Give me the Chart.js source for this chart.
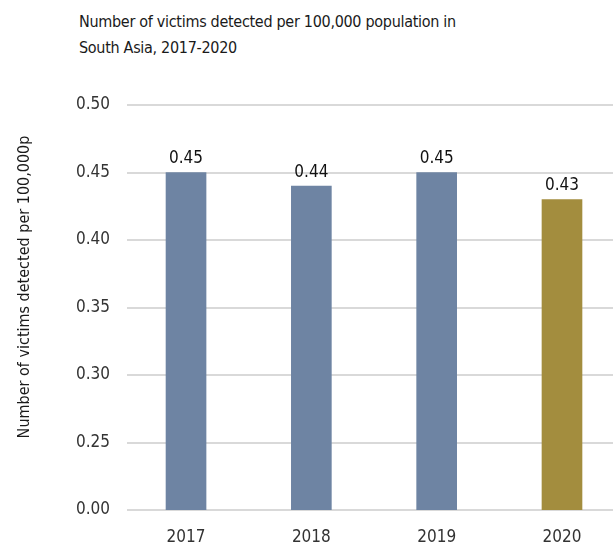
<!DOCTYPE html>
<html>
<head>
<meta charset="utf-8">
<script src="https://cdn.jsdelivr.net/npm/chart.js@4.4.1/dist/chart.umd.min.js"></script>
<style>
  body { margin: 0; background: #fff; }
  #wrap { position: relative; width: 613px; height: 544px; }
  #title {
    position: absolute; left: 79px; top: 9px;
    font-family: "DejaVu Sans Condensed", sans-serif;
    font-size: 16px; line-height: 26px; color: #1a1a1a;
    letter-spacing: -0.3px;
  }
  canvas { position: absolute; left: 0; top: 0; }
</style>
</head>
<body>
<div id="wrap">
  <div id="title">Number of victims detected per 100,000 population in<br>South Asia, 2017-2020</div>
  <canvas id="victimsChart" width="613" height="544"></canvas>
</div>
<script>
const years = ["2017", "2018", "2019", "2020"];
const victimRates = [0.45, 0.44, 0.45, 0.43];
const barColors = ["#6e84a3", "#6e84a3", "#6e84a3", "#a38d3e"];
const yTicks = [0.0, 0.25, 0.3, 0.35, 0.4, 0.45, 0.5];
const yTitle = "Number of victims detected per 100,000p";

const FONT = "'DejaVu Sans Condensed', sans-serif";

// value labels above each bar + the rotated y axis title
const extraText = {
  id: "extraText",
  afterDatasetsDraw(chart) {
    const ctx = chart.ctx;
    const meta = chart.getDatasetMeta(0);
    ctx.save();
    ctx.font = "17px " + FONT;
    ctx.fillStyle = "#111";
    ctx.textAlign = "center";
    ctx.textBaseline = "bottom";
    meta.data.forEach((bar, i) => {
      ctx.fillText(victimRates[i].toFixed(2), bar.x, bar.y - 5);
    });
    ctx.restore();

    ctx.save();
    ctx.translate(25, 287);
    ctx.rotate(-Math.PI / 2);
    ctx.font = "16px " + FONT;
    ctx.fillStyle = "#1a1a1a";
    ctx.textAlign = "center";
    ctx.textBaseline = "middle";
    ctx.fillText(yTitle, 0, 0);
    ctx.restore();
  },
};

new Chart(document.getElementById("victimsChart"), {
  type: "bar",
  data: {
    datasets: [
      {
        data: years.map((y, i) => ({ x: i, y: victimRates[i] })),
        backgroundColor: barColors,
        barThickness: 40,
      },
    ],
  },
  options: {
    responsive: false,
    animation: false,
    layout: { padding: { top: 105, right: 0, left: 0, bottom: 0 } },
    plugins: {
      legend: { display: false },
      tooltip: { enabled: false },
    },
    scales: {
      x: {
        type: "linear",
        offset: false,
        min: -0.471,
        max: 3.407,
        grid: { display: false },
        border: { display: false },
        afterBuildTicks: (scale) => {
          scale.ticks = years.map((y, i) => ({ value: i }));
        },
        ticks: {
          autoSkip: false,
          maxRotation: 0,
          padding: 9,
          color: "#333",
          font: { family: FONT, size: 17 },
          callback: (v) => years[v],
        },
        afterFit: (scale) => {
          scale.height = 34;
        },
      },
      y: {
        // broken axis: bottom tick is shown as 0.00
        min: 0.2,
        max: 0.5,
        grid: { color: "#d9d9d9", lineWidth: 2, drawTicks: false },
        border: { display: false },
        afterBuildTicks: (scale) => {
          scale.ticks = yTicks.map((t) => ({ value: t === 0 ? 0.2 : t }));
        },
        ticks: {
          padding: 17,
          color: "#333",
          font: { family: FONT, size: 17 },
          callback: (v) => (Math.abs(v - 0.2) < 1e-6 ? "0.00" : v.toFixed(2)),
        },
        afterFit: (scale) => {
          scale.width = 127;
        },
      },
    },
  },
  plugins: [extraText],
});
</script>
</body>
</html>
